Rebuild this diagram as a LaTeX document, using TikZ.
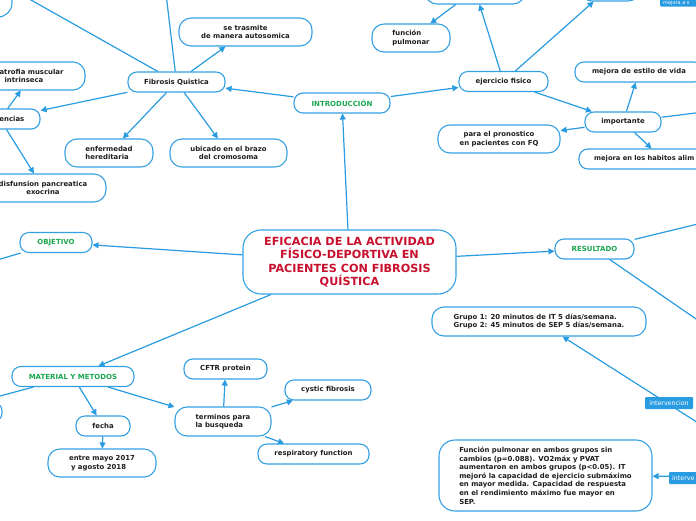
\documentclass[tikz,border=0pt]{standalone}
\usepackage{fontspec}
\setmainfont{DejaVu Sans}
\usetikzlibrary{arrows.meta}
\definecolor{lineblue}{RGB}{41,155,225}
\definecolor{boxblue}{RGB}{52,160,228}
\definecolor{titlered}{RGB}{200,16,46}
\definecolor{headgreen}{RGB}{26,166,80}
\definecolor{txtc}{RGB}{30,30,30}
\begin{document}
\begin{tikzpicture}[x=1pt,y=-1pt,
 box/.style={draw=boxblue, line width=1.1pt, fill=white, rounded corners=9pt, inner sep=0pt, minimum height=20pt, text=txtc, font=\bfseries\fontsize{6.9}{8.6}\selectfont, align=center},
 tall/.style={box, minimum height=28pt, rounded corners=12pt},
 head/.style={box, text=headgreen, font=\bfseries\fontsize{7}{8.6}\selectfont},
 con/.style={draw=lineblue, line width=1.2pt, -{Triangle[length=6pt,width=6pt]}},
 tag/.style={fill=lineblue, text=white, font=\fontsize{6.3}{7}\selectfont, inner ysep=0pt, minimum height=12pt, rounded corners=1pt},
 txt/.style={text=txtc, font=\bfseries\fontsize{6.9}{8.6}\selectfont, inner sep=0pt}
]
\useasboundingbox (0,0) rectangle (696,520);
\clip (0,0) rectangle (696,520);

% central and introduction branch
\node[box, minimum width=213pt, minimum height=64pt, rounded corners=18pt, text=titlered, font=\bfseries\fontsize{11.2}{13.5}\selectfont] (title) at (349.5,262) {EFICACIA DE LA ACTIVIDAD\\FÍSICO-DEPORTIVA EN\\PACIENTES CON FIBROSIS\\QUÍSTICA};
\node[head, minimum width=96pt] (intro) at (342,103) {INTRODUCCIÓN};
\node[box, minimum width=97pt] (fq) at (176.5,82) {Fibrosis Quistica};
\node[tall, minimum width=133pt] (tras) at (245.5,32) {se trasmite\\de manera autosomica};
\node[tall, minimum width=107pt, align=left] (atr) at (31.5,76) {atrofia muscular\\\hspace*{5pt}intrinseca};
\node[box, minimum width=80pt] (enc) at (0,119) {};
\node[txt, anchor=east] (enctxt) at (24.5,119) {encias};
\node[tall, minimum width=126pt] (dis) at (43,188) {disfunsion pancreatica\\exocrina};
\node[tall, minimum width=88pt, align=left] (enf) at (109,153) {enfermedad\\hereditaria};
\node[tall, minimum width=117pt] (ubi) at (228.5,153) {ubicado en el brazo\\del cromosoma};
\node[tall, minimum width=104pt, minimum height=44pt, rounded corners=14pt] (tl) at (-40,-5) {};
\coordinate (fqa) at (-40,-40);
\coordinate (fqb) at (162,-40);
\node[tall, minimum width=78pt, align=left] (fun) at (411,38) {función\\pulmonar};
\node[tall, minimum width=100pt] (topa) at (475,-10) {};
\node[tall, minimum width=60pt] (topb) at (610,-13) {};
\node[box, minimum width=89pt] (ej) at (503.5,81.5) {ejercicio fisico};
\node[box, minimum width=128pt] (est) at (639,72) {mejora de estilo de vida};
\node[box, minimum width=76pt] (imp) at (623,122) {importante};
\node[tall, minimum width=122pt] (pron) at (499,139) {para el pronostico\\en pacientes con FQ};
\node[box, minimum width=168pt] (hab) at (663,159) {};
\node[txt, anchor=west, font=\bfseries\fontsize{6.7}{8.6}\selectfont] (habtxt) at (594,159) {mejora en los habitos alim};
\coordinate (impr) at (760,105);

% objective, results
\node[head, minimum width=72pt] (obj) at (56,242.5) {OBJETIVO};
\coordinate (objl) at (-60,277);
\node[head, minimum width=79pt] (res) at (594.5,249) {RESULTADO};
\coordinate (resa) at (760,209);
\coordinate (resb) at (760,363);
\node[tall, minimum width=214pt, minimum height=29pt, align=left] (grp) at (539,321.5) {Grupo 1: 20 minutos de IT 5 días/semana.\\Grupo 2: 45 minutos de SEP 5 días/semana.};
\node[box, minimum width=213pt, minimum height=71pt, rounded corners=16pt, align=left] (fin) at (545.5,475.5) {Función pulmonar en ambos grupos sin\\cambios (p=0.088). VO2máx y PVAT\\aumentaron en ambos grupos (p<0.05). IT\\mejoró la capacidad de ejercicio submáximo\\en mayor medida. Capacidad de respuesta\\en el rendimiento máximo fue mayor en\\SEP.};
\coordinate (intx) at (783,477);

% material y metodos
\node[head, minimum width=122pt] (mat) at (73,376.5) {MATERIAL Y METODOS};
\node[box, minimum width=124pt] (matl) at (-60,412) {};
\node[box, minimum width=54pt] (fec) at (103,426) {fecha};
\node[tall, minimum width=108pt, align=left] (may) at (102,463) {entre mayo 2017\\\hspace*{2pt}y agosto 2018};
\node[tall, minimum width=96pt, minimum height=29pt, align=left] (ter) at (223,421.5) {terminos para\\la busqueda};
\node[box, minimum width=83pt] (cftr) at (225.5,369) {CFTR protein};
\node[box, minimum width=86pt] (cys) at (328,390) {cystic fibrosis};
\node[box, minimum width=111pt] (resp) at (313.5,454) {respiratory function};

% connectors
\draw[con] (title) -- (intro);
\draw[con] (title) -- (obj);
\draw[con] (title) -- (res);
\draw[con] (title) -- (mat);
\draw[con] (intro) -- (fq);
\draw[con] (intro) -- (ej);
\draw[con] (fq) -- (tras);
\draw[con] (fq) -- (enc);
\draw[con] (fq) -- (enf);
\draw[con] (fq) -- (ubi);
\draw[con] (fq) -- (fqa);
\draw[con] (fq) -- (fqb);
\draw[con] (enc) -- (atr);
\draw[con] (enc) -- (dis);
\draw[con] (ej) -- (topa);
\draw[con] (ej) -- (topb);
\draw[con] (topa) -- (fun);
\draw[con] (ej) -- (imp);
\draw[con] (imp) -- (est);
\draw[con] (imp) -- (pron);
\draw[con] (imp) -- (hab);
\draw[con] (imp) -- (impr);
\draw[con] (obj) -- (objl);
\draw[con] (res) -- (resa);
\draw[con] (res) -- (resb);
\draw[con] (intx) -- (grp);
\draw[con] (intx) -- (fin);
\draw[con] (mat) -- (matl);
\draw[con] (mat) -- (fec);
\draw[con] (mat) -- (ter);
\draw[con] (fec) -- (may);
\draw[con] (ter) -- (cftr);
\draw[con] (ter) -- (cys);
\draw[con] (ter) -- (resp);

% connector labels
\node[tag, text width=42pt, align=center, inner xsep=3pt] (tagi) at (669,403) {intervencion};
\node[tag, anchor=west, text width=42pt, align=left, inner xsep=3pt] (tagj) at (669,478) {interve};
\node[tag, anchor=west, minimum width=56pt, minimum height=13pt] (tagm) at (660,0) {};
\node[anchor=west, inner sep=0pt, text=white, font=\fontsize{5}{6}\selectfont] (tagmtxt) at (663,3.2) {mejora a s};
\end{tikzpicture}
\end{document}
